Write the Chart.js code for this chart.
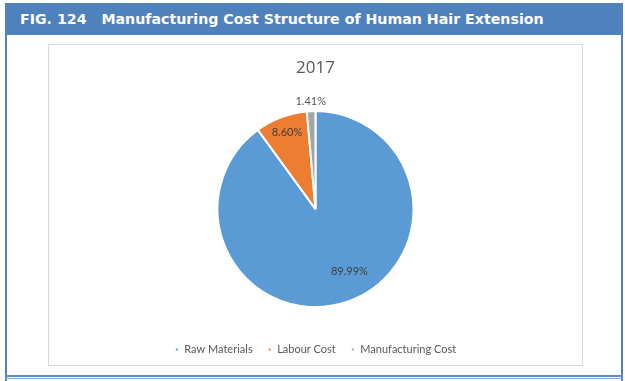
<!DOCTYPE html>
<html>
<head>
<meta charset="utf-8">
<script src="https://cdn.jsdelivr.net/npm/chart.js@4/dist/chart.umd.min.js"></script>
<style>
  html, body { margin: 0; padding: 0; background: #ffffff; }
  #frame { position: absolute; left: 5px; top: 3px; width: 618px; height: 378px; }
  #header { position: absolute; left: 0; top: 0; width: 618px; height: 32px; background: #4F81BD;
            color: #fff; font-family: "DejaVu Sans", Verdana, sans-serif; font-weight: bold; font-size: 14.2px;
            line-height: 32px; white-space: pre; }
  #header span { position: absolute; left: 15px; top: 0; }
  #lborder { position: absolute; left: 0; top: 32px; width: 2px; height: 346px; background: #4F81BD; }
  #rborder { position: absolute; left: 616px; top: 32px; width: 2px; height: 346px; background: #4F81BD; }
  #b1 { position: absolute; left: 0; top: 372px; width: 618px; height: 2px; background: #5B8FD0; }
  #b2 { position: absolute; left: 0; top: 375px; width: 618px; height: 1px; background: #7FA8DC; }
  #box { position: absolute; left: 48px; top: 44px; width: 535px; height: 322px; border: 1px solid #D9D9D9; box-sizing: border-box; }
  #wrap { position: absolute; left: 48px; top: 44px; width: 535px; height: 322px; }
</style>
</head>
<body>
<div id="frame">
  <div id="header"><span>FIG. 124   Manufacturing Cost Structure of Human Hair Extension</span></div>
  <div id="lborder"></div>
  <div id="rborder"></div>
  <div id="b1"></div>
  <div id="b2"></div>
</div>
<div id="box"></div>
<div id="wrap"><canvas id="c"></canvas></div>
<script>
const chartTitle = "2017";
const categories = ["Raw Materials", "Labour Cost", "Manufacturing Cost"];
const values = [89.99, 8.60, 1.41];
const valueLabels = ["89.99%", "8.60%", "1.41%"];
const colors = ["#5B9BD5", "#ED7D31", "#A5A5A5"];

// label placement style: [radius factor, angle shift in degrees]
const labelPlacement = [[0.72, -10.7], [0.83, 0], [1.10, 0]];
const labelColors = ["#404040", "#404040", "#595959"];

const labelPlugin = {
  id: 'sliceLabels',
  afterDatasetsDraw(chart) {
    const ctx = chart.ctx;
    const meta = chart.getDatasetMeta(0);
    ctx.save();
    ctx.font = '11px Lato, sans-serif';
    ctx.textAlign = 'center';
    ctx.textBaseline = 'middle';
    meta.data.forEach((arc, i) => {
      const p = arc.getProps(['x', 'y', 'startAngle', 'endAngle', 'outerRadius'], true);
      const mid = (p.startAngle + p.endAngle) / 2 + labelPlacement[i][1] * Math.PI / 180;
      const r = p.outerRadius * labelPlacement[i][0];
      ctx.fillStyle = labelColors[i];
      ctx.fillText(valueLabels[i], p.x + Math.cos(mid) * r, p.y + Math.sin(mid) * r);
    });
    ctx.restore();
  }
};

new Chart(document.getElementById('c'), {
  type: 'pie',
  data: {
    labels: categories,
    datasets: [{
      data: values,
      backgroundColor: colors,
      borderColor: '#ffffff',
      borderWidth: 2,
      radius: 98
    }]
  },
  options: {
    responsive: true,
    maintainAspectRatio: false,
    animation: false,
    layout: { padding: { top: 0, bottom: 1, left: 0, right: 0 } },
    plugins: {
      title: {
        display: true,
        text: chartTitle,
        color: '#595959',
        font: { family: '"Open Sans", sans-serif', size: 17, weight: 'normal' },
        padding: { top: 14, bottom: 10.8 }
      },
      legend: {
        position: 'bottom',
        labels: {
          color: '#595959',
          font: { family: 'Lato, sans-serif', size: 11 },
          boxWidth: 4, boxHeight: 4,
          padding: 15
        }
      },
      tooltip: { enabled: false }
    }
  },
  plugins: [labelPlugin]
});
</script>
</body>
</html>
